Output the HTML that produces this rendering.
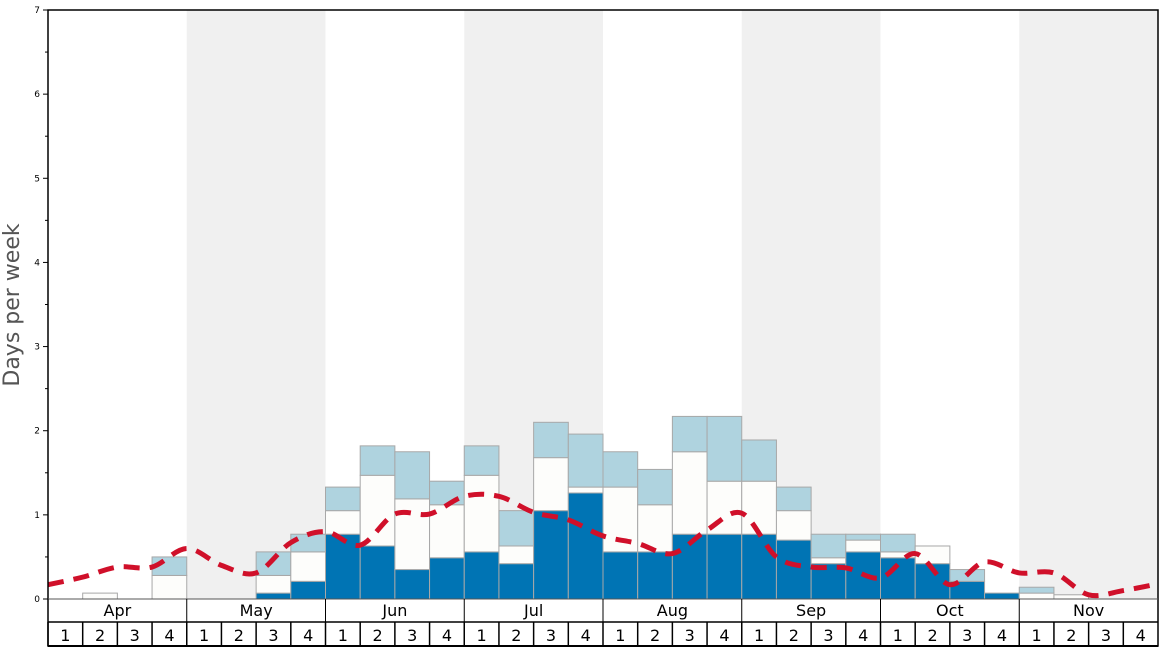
<!DOCTYPE html>
<html><head><meta charset="utf-8"><style>
body{margin:0;background:#fff;}
svg{display:block;font-family:"DejaVu Sans","Liberation Sans",sans-serif;}
</style></head><body>
<svg id="c" width="1168" height="648" viewBox="0 0 1168 648"></svg>
<script>
const months=["Apr","May","Jun","Jul","Aug","Sep","Oct","Nov"];
const weekLabels=["1","2","3","4"];
const yTicks=[0,1,2,3,4,5,6,7];
const darkVals=[0,0,0,0, 0,0,0.07,0.21, 0.77,0.63,0.35,0.49, 0.56,0.42,1.05,1.26, 0.56,0.56,0.77,0.77, 0.77,0.7,0.42,0.56, 0.49,0.42,0.21,0.07, 0,0,0,0];
const whiteVals=[0,0.07,0,0.28, 0,0,0.28,0.56, 1.05,1.47,1.19,1.12, 1.47,0.63,1.68,1.33, 1.33,1.12,1.75,1.4, 1.4,1.05,0.49,0.7, 0.56,0.63,0.21,0.07, 0.07,0.05,0,0];
const lightVals=[0,0.07,0,0.5, 0,0,0.56,0.77, 1.33,1.82,1.75,1.4, 1.82,1.05,2.1,1.96, 1.75,1.54,2.17,2.17, 1.89,1.33,0.77,0.77, 0.77,0.63,0.35,0.07, 0.14,0.05,0,0];
const lineVals=[0.17,0.26,0.38,0.38,0.6,0.4,0.31,0.67,0.8,0.64,1.01,1.01,1.22,1.22,1.03,0.94,0.75,0.66,0.54,0.82,1.02,0.5,0.38,0.37,0.25,0.54,0.17,0.44,0.31,0.31,0.05,0.1,0.18];
const NS="http://www.w3.org/2000/svg";
const svg=document.getElementById("c");
const X0=48,X1=1158,Y0=599,Y1=10,YMAX=7;
const nW=months.length*4, bw=(X1-X0)/nW;
const xs=i=>X0+i*bw;
const ys=v=>Y0-(Y0-Y1)*v/YMAX;
function mk(t,a,p){const e=document.createElementNS(NS,t);for(const k in a)e.setAttribute(k,a[k]);(p||svg).appendChild(e);return e;}
// bands
months.forEach((m,i)=>{if(i%2==1){const r=mk("rect",{x:xs(i*4),y:Y1,width:bw*4,height:Y0-Y1,fill:"#f0f0f0"});

}});
// bars
for(let i=0;i<nW;i++){
  const segs=[[0,darkVals[i],"#0074b4"],[darkVals[i],whiteVals[i],"#fdfdfb"],[whiteVals[i],lightVals[i],"#afd3df"]];
  segs.forEach((s,j)=>{if(s[1]>s[0]){const r=mk("rect",{x:xs(i),y:ys(s[1]),width:bw,height:ys(s[0])-ys(s[1]),fill:s[2],stroke:"#a8a8a8","stroke-width":1});
  
  }});
}
// line
let pts=lineVals.map((v,i)=>[xs(i),ys(v)]);
let d="M"+pts[0][0]+","+pts[0][1];
for(let i=0;i<pts.length-1;i++){const p0=pts[Math.max(0,i-1)],p1=pts[i],p2=pts[i+1],p3=pts[Math.min(pts.length-1,i+2)];
 const c1=[p1[0]+(p2[0]-p0[0])/6,p1[1]+(p2[1]-p0[1])/6],c2=[p2[0]-(p3[0]-p1[0])/6,p2[1]-(p3[1]-p1[1])/6];
 d+=` C${c1[0]},${c1[1]} ${c2[0]},${c2[1]} ${p2[0]},${p2[1]}`;}
const ln=mk("path",{d:d,fill:"none",stroke:"#d0102a","stroke-width":5,"stroke-dasharray":"16,10"});


// frame
const fr=mk("rect",{x:X0,y:Y1,width:X1-X0,height:646-Y1,fill:"none",stroke:"#000","stroke-width":1.5});


mk("line",{x1:X0,x2:X1,y1:Y0,y2:Y0,stroke:"#555","stroke-width":1});
mk("line",{x1:X0,x2:X1,y1:622,y2:622,stroke:"#000","stroke-width":1.5});
mk("line",{x1:X0,x2:X1,y1:646,y2:646,stroke:"#000","stroke-width":2});
// y ticks
yTicks.forEach(v=>{mk("line",{x1:X0-5,x2:X0,y1:ys(v),y2:ys(v),stroke:"#000"});
 const t=mk("text",{x:40,y:ys(v)+3,"text-anchor":"end","font-size":9,fill:"#000"});t.textContent=v;
 
 
 if(v<7)mk("line",{x1:X0-3,x2:X0,y1:ys(v+0.5),y2:ys(v+0.5),stroke:"#000"});});
const yt=mk("text",{x:0,y:0,transform:"translate(19,305) rotate(-90)","text-anchor":"middle","font-size":22,fill:"#555"});
yt.textContent="Days per week";


// month & week labels
months.forEach((m,i)=>{
 mk("line",{x1:xs(i*4),x2:xs(i*4),y1:Y0,y2:622,stroke:"#000","stroke-width":1});
 const t=mk("text",{x:xs(i*4)+bw*2,y:616,"text-anchor":"middle","font-size":16,fill:"#000"});t.textContent=m;
 
 
 weekLabels.forEach((w,j)=>{const k=i*4+j;
  mk("line",{x1:xs(k),x2:xs(k),y1:622,y2:646,stroke:"#000","stroke-width":1.5});
  const tw=mk("text",{x:xs(k)+bw/2,y:641,"text-anchor":"middle","font-size":16,fill:"#000"});tw.textContent=w;
  
  });
});
</script>
</body></html>
